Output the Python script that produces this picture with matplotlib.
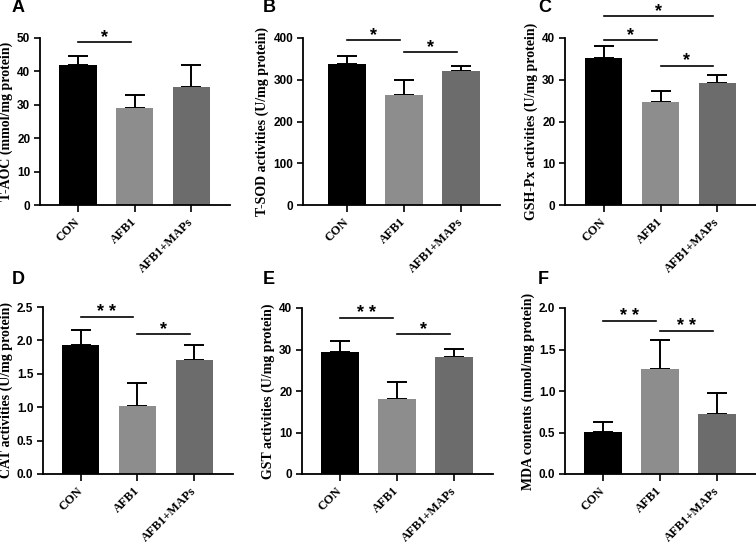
import matplotlib
matplotlib.use('Agg')
import matplotlib.pyplot as plt
import matplotlib.transforms as mtransforms

groups = ['CON', 'AFB1', 'AFB1+MAPs']
bar_colors = ['#000000', '#8d8d8d', '#6c6c6c']

# per-panel data: means, upper error (SD) and significance brackets
letters = ['A', 'B', 'C', 'D', 'E', 'F']
ylabels = ['T-AOC (mmol/mg protein)', 'T-SOD activities (U/mg protein)',
           'GSH-Px activities (U/mg protein)', 'CAT activities (U/mg protein)',
           'GST activities (U/mg protein)', 'MDA contents (nmol/mg protein)']
means_a = [42.0, 29.1, 35.4]
errs_a = [2.5, 3.9, 6.5]
means_b = [338, 264, 322]
errs_b = [18, 36, 12]
means_c = [35.2, 24.6, 29.3]
errs_c = [2.8, 2.7, 1.9]
means_d = [1.93, 1.02, 1.71]
errs_d = [0.23, 0.34, 0.22]
means_e = [29.5, 18.0, 28.2]
errs_e = [2.5, 4.2, 2.0]
means_f = [0.51, 1.27, 0.72]
errs_f = [0.12, 0.34, 0.25]
means = [means_a, means_b, means_c, means_d, means_e, means_f]
errs = [errs_a, errs_b, errs_c, errs_d, errs_e, errs_f]
ymax = [50, 400, 40, 2.5, 40, 2.0]
ystep = [10, 100, 10, 0.5, 10, 0.5]
ydec = [0, 0, 0, 1, 0, 1]
# (from group, to group, line height, label)
sig_a = [(0, 1, 48.9, '*')]
sig_b = [(0, 1, 395, '*'), (1, 2, 366, '*')]
sig_c = [(0, 1, 39.5, '*'), (1, 2, 33.4, '*'), (0, 2, 45.3, '*')]
sig_d = [(0, 1, 2.35, '* *'), (1, 2, 2.10, '*')]
sig_e = [(0, 1, 37.7, '* *'), (1, 2, 33.7, '*')]
sig_f = [(0, 1, 1.847, '* *'), (1, 2, 1.718, '* *')]
sigs = [sig_a, sig_b, sig_c, sig_d, sig_e, sig_f]

W, H = 756, 547
# axes boxes in pixels: left, right, top, bottom
boxes = [(40, 230, 38, 205), (303, 500, 38, 205), (565, 756, 38, 205),
         (43, 233, 307, 474), (302, 493, 308, 474), (565, 756, 308, 474)]
xleft = [-0.67, -0.77, -0.68, -0.66, -0.67, -0.67]
letter_pos = [(12, 8), (263, 8), (538, 8), (12, 279), (263, 279), (538, 279)]

serif = 'Liberation Serif'
sans = 'Liberation Sans'

fig = plt.figure(figsize=(W / 100, H / 100), dpi=100)
x = [0, 1, 2]
for i in range(6):
    l, r, t, b = boxes[i]
    ax = fig.add_axes([l / W, 1 - b / H, (r - l) / W, (b - t) / H])
    ax.bar(x, means[i], width=0.66, color=bar_colors, edgecolor='none', zorder=2)
    ax.errorbar(x, means[i], yerr=[[0, 0, 0], errs[i]], fmt='none', ecolor='black',
                elinewidth=1.4, capsize=7.5, capthick=1.4, zorder=1)
    ax.set_xlim(xleft[i], 2.68)
    ax.set_ylim(0, ymax[i])
    n = int(round(ymax[i] / ystep[i]))
    ticks = [k * ystep[i] for k in range(n + 1)]
    ax.set_yticks(ticks)
    ax.set_yticklabels([f'{v:.{ydec[i]}f}' for v in ticks], fontfamily=sans,
                       fontweight='bold', fontsize=8.5)
    ax.set_xticks(x)
    ax.set_xticklabels(groups, rotation=45, ha='right', va='center',
                       rotation_mode='anchor', fontfamily=serif,
                       fontweight='bold', fontsize=9)
    shift = mtransforms.ScaledTranslation(4 / 100, 0, fig.dpi_scale_trans)
    for lab in ax.get_xticklabels():
        lab.set_transform(lab.get_transform() + shift)
    ax.tick_params(axis='y', length=4, width=1.2, pad=3)
    ax.tick_params(axis='x', length=5, width=1.2, pad=6)
    for s in ['top', 'right']:
        ax.spines[s].set_visible(False)
    for s in ['left', 'bottom']:
        ax.spines[s].set_linewidth(1.3)
    ax.set_ylabel(ylabels[i], fontfamily=serif, fontweight='bold', fontsize=10,
                  labelpad=3)
    for g1, g2, h, lab in sigs[i]:
        ax.plot([g1 + 0.0, g2 - 0.07], [h, h], color='black', lw=1.2,
                clip_on=False, zorder=3)
        ax.text((g1 + g2) / 2 - 0.035, h, lab, ha='center', va='baseline',
                fontfamily=sans, fontweight='bold', fontsize=13, clip_on=False)
    lx, ly = letter_pos[i]
    fig.text(lx / W, 1 - ly / H, letters[i], fontfamily=sans, fontweight='bold',
             fontsize=13, va='center', ha='left')

fig.savefig('out.png', dpi=100)
